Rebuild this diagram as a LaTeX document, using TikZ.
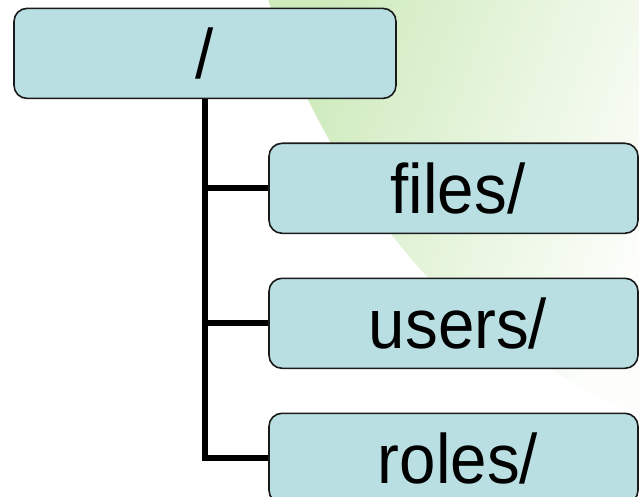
\documentclass[tikz,border=0pt]{standalone}
\usepackage{fontspec}
\setmainfont{Liberation Sans}
\newfontfamily\boxfont[FakeStretch=0.935]{Liberation Sans}
\definecolor{boxfill}{HTML}{B9DFE3}
\definecolor{bggreen}{HTML}{CDEABB}
\definecolor{bgmid}{HTML}{E9F5E0}
\definecolor{bgpale}{HTML}{FDFEFB}
\definecolor{edgecol}{HTML}{1A1A1A}
\begin{document}
\begin{tikzpicture}[x=1pt,y=-1pt,
  dirbox/.style={draw=edgecol, line width=1.6pt, fill=boxfill, rounded corners=13pt,
    minimum height=90pt, inner sep=0pt, font=\boxfont\fontsize{70}{80}\selectfont},
  conn/.style={line width=6pt, draw=black, line join=miter}]
\useasboundingbox (0,0) rectangle (639,497);
% background green shape
\begin{scope}
\clip (268,-1) .. controls (295,90) and (360,210) .. (440,290)
   .. controls (510,350) and (580,390) .. (640,415) -- (640,-1) -- cycle;
\shade[top color=bggreen, middle color=bgmid, bottom color=bgpale, shading angle=70]
   (265,0) rectangle (640,420);
\end{scope}
% nodes
\node[dirbox, minimum width=382pt] (root) at (205,53.4) {/};
\node[dirbox, minimum width=369pt] (files) at (453.5,188.3) {\hspace*{9pt}files/};
\node[dirbox, minimum width=369pt] (users) at (453.5,323.3) {\hspace*{9pt}users/};
\node[dirbox, minimum width=369pt] (roles) at (453.5,458.3) {\hspace*{9pt}roles/};
% connectors
\draw[conn] (root.south) |- (roles.west);
\draw[conn] (root.south |- files.west) -- (files.west);
\draw[conn] (root.south |- users.west) -- (users.west);
\end{tikzpicture}
\end{document}
